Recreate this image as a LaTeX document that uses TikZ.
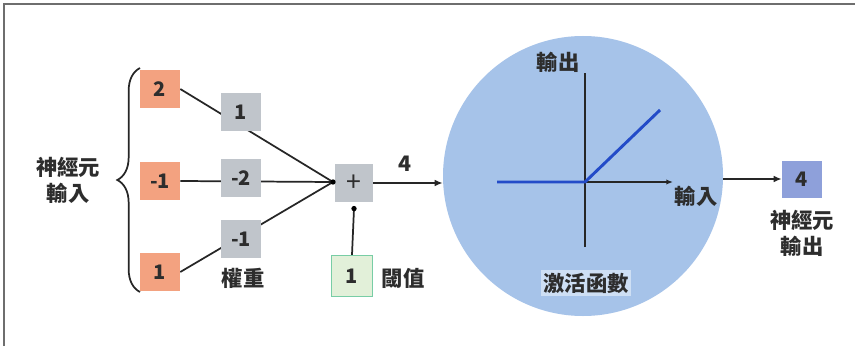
\documentclass[tikz,border=0pt]{standalone}
\usepackage{fontspec}
\setmainfont{Noto Sans CJK TC}
\usetikzlibrary{arrows.meta,decorations.pathreplacing,backgrounds}
\definecolor{inorange}{RGB}{243,162,128}
\definecolor{wgray}{RGB}{192,197,203}
\definecolor{bgreen}{RGB}{226,240,217}
\definecolor{bgreenline}{RGB}{120,205,165}
\definecolor{circfill}{RGB}{166,195,233}
\definecolor{lblfill}{RGB}{206,223,244}
\definecolor{outfill}{RGB}{142,160,218}
\definecolor{fnblue}{RGB}{35,75,200}
\definecolor{framec}{RGB}{110,110,110}
\definecolor{txt}{RGB}{45,45,45}
\begin{document}
\begin{tikzpicture}[x=0.75pt,y=-0.75pt,
  font=\fontsize{15}{18}\selectfont\bfseries, text=txt,
  sq/.style={inner sep=0pt, minimum width=30pt, minimum height=28.5pt},
  inbox/.style={sq, fill=inorange},
  wbox/.style={sq, fill=wgray},
  sumbox/.style={sq, fill=wgray, minimum width=28.5pt, minimum height=28pt, font=\fontsize{20}{20}\selectfont},
  biasbox/.style={sq, fill=bgreen, draw=bgreenline, line width=0.8pt, minimum width=31pt, minimum height=31pt},
  outbox/.style={sq, fill=outfill, minimum height=27.75pt},
  conn/.style={draw=black!85, line width=1.3pt},
  arr/.style={conn, -{Latex[length=6pt,width=5pt]}},
  lbl/.style={align=center, inner sep=1pt, font=\fontsize{16}{19.5}\selectfont\bfseries}
]
\useasboundingbox (0,0) rectangle (855,346);
\begin{scope}[on background layer]
  \fill[white] (0,0) rectangle (855,346);
\end{scope}
\draw[framec, line width=1pt] (4,346) -- (4,4) -- (855,4);

% inputs
\node[inbox] (i1) at (160,89) {2};
\node[inbox] (i2) at (160,181) {-1};
\node[inbox] (i3) at (160,272) {1};
\draw[conn, decorate, decoration={brace, amplitude=17pt, aspect=0.5}] (140,292) -- (140,68);
\node[lbl] (inlbl) at (68,180) {神經元\\輸入};

% weights
\node[wbox] (w1) at (241,112) {1};
\node[wbox] (w2) at (241,178) {-2};
\node[wbox] (w3) at (241,239) {-1};
\node[lbl] (wlbl) at (243,278) {權重};

% sum
\node[sumbox] (s) at (354,183) {+};
\coordinate (j) at (333,182);
\begin{scope}[on background layer]
  \draw[conn] (i1.east) -- (j);
  \draw[conn] (i2.east) -- (j);
  \draw[conn] (i3.east) -- (j);
\end{scope}
\fill[black] (j) circle (2pt);

% bias
\node[biasbox] (b) at (352,276) {1};
\node[lbl] (blbl) at (403,278) {閾值};
\draw[conn] (b.north) -- ([yshift=-5]s.south);
\fill[black] ([yshift=-5]s.south) circle (2pt);

% activation
\node[circle, fill=circfill, inner sep=0pt, minimum size=210pt] (c) at (583,176) {};
\draw[arr] (s.east) -- (s.east -| c.west);
\node[lbl] (v4) at (405,164) {4};

\coordinate (o) at (585,182);
\coordinate (ytop) at (585,73);
\coordinate (ybot) at (585,247);
\coordinate (xr) at (673,182);
\draw[conn, line width=1.1pt] (ybot) -- (ytop);
\draw[conn, line width=1.1pt, -{Latex[length=5pt,width=4pt]}] (o) -- (xr);
\draw[fnblue, line width=2.2pt] (497,182) -- (o) -- (660,110);
\node[lbl] (ylbl) at (558,62) {輸出};
\node[lbl] (xlbl) at (696,196) {輸入};
\node[lbl, fill=lblfill, inner sep=2pt] (flbl) at (586,283) {激活函數};

% output
\node[outbox] (out) at (802,179) {4};
\draw[arr] (c.east |- out.west) -- (out.west);
\node[lbl] (olbl) at (802,233) {神經元\\輸出};
\end{tikzpicture}
\end{document}
